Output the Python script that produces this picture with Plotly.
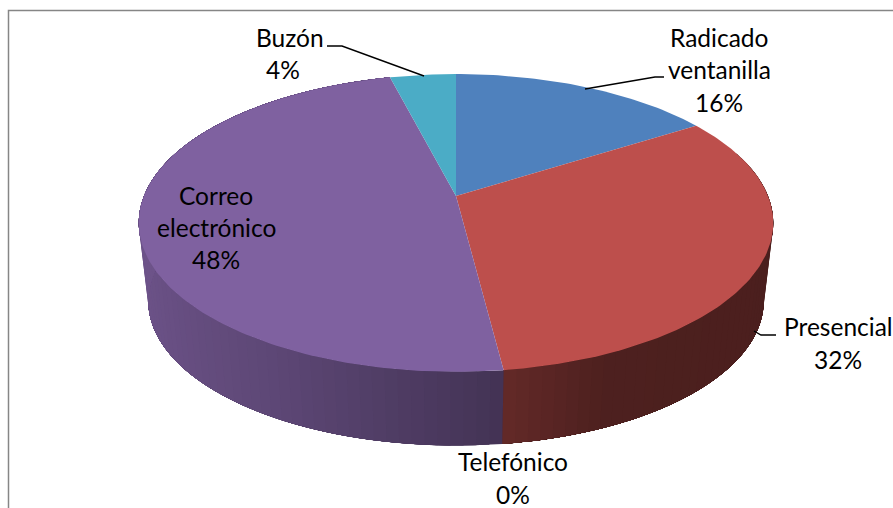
import numpy as np
import plotly.graph_objects as go

# Data
categories = ["Radicado ventanilla", "Presencial", "Telefónico", "Correo electrónico", "Buzón"]
values = [16, 32, 0, 48, 4]
colors = ["#4f81bd", "#bd4f4c", "#9bbb59", "#7f61a0", "#4bacc6"]
label_lines = [["Radicado", "ventanilla", "16%"], ["Presencial", "32%"], ["Telefónico", "0%"],
               ["Correo", "electrónico", "48%"], ["Buzón", "4%"]]
label_x = [[719, 719, 719], [838, 838], [513, 513], [216, 216, 216], [290, 283]]
label_y = [[37, 69, 102], [326, 359], [461, 494], [195, 227, 259], [37, 69]]
leaders = [[(585, 89), (655, 77), (664, 77)], [(754, 331), (761, 335), (776, 335)], [(424, 76), (342, 46), (327, 46)]]

# Projection of the tilted disc
CX, TOP_Y, BOT_Y, A, B, K, BOT_SCALE = 456, 196, 275, 144, 312, 0.181, 0.97
FONT = "Lato"
FS = 24.5


def project(theta, cy, scale=1.0):
    u, v = np.sin(theta), np.cos(theta)
    d = 1 + K * v
    return CX + scale * B * u / d, cy - scale * A * v / d


def shade(color, theta):
    f = np.interp(np.sin(theta), [-1, -.5, .125, .4, 1], [.86, .74, .53, .41, .4])
    rgb = [int(color[i:i + 2], 16) for i in (1, 3, 5)]
    return "rgb(%d,%d,%d)" % tuple(int(c * f) for c in rgb)


fig = go.Figure()


def poly(xs, ys, col):
    fig.add_trace(go.Scatter(x=list(xs), y=list(ys), mode="lines", fill="toself", fillcolor=col,
                             line=dict(color=col, width=0), hoverinfo="skip", showlegend=False))


total = sum(values)
edges = np.radians(np.cumsum([0] + values) / total * 360)

# Rim: each facet reaches to the end of its slice, the next one paints over it
for i, col in enumerate(colors):
    a0, a1 = edges[i], edges[i + 1]
    if a1 <= a0:
        continue
    n = max(2, int(np.degrees(a1 - a0) / 2))
    th = np.linspace(a0, a1, n + 1)
    for k, (t0, t1) in enumerate(zip(th[:-1], th[1:])):
        if np.cos((t0 + t1) / 2) > 0.3:
            continue
        arc = np.linspace(t0, a1, 40)
        xt, yt = project(arc, TOP_Y)
        xb, yb = project(arc[::-1], BOT_Y, BOT_SCALE)
        poly([*xt, *xb, xt[0]], [*yt, *yb, yt[0]], shade(col, (t0 + t1) / 2))

# Top face
for i, col in enumerate(colors):
    a0, a1 = edges[i], edges[i + 1]
    if a1 <= a0:
        continue
    th = np.linspace(a0, a1, max(4, int(np.degrees(a1 - a0))) + 1)
    xs, ys = project(th, TOP_Y)
    poly([CX, *xs, CX], [TOP_Y, *ys, TOP_Y], col)

# Leader lines
for pts in leaders:
    fig.add_trace(go.Scatter(x=[p[0] for p in pts], y=[p[1] for p in pts], mode="lines",
                             line=dict(color="#000000", width=1.4), hoverinfo="skip", showlegend=False))

# Labels
for lines, xs, ys in zip(label_lines, label_x, label_y):
    for t, x, y in zip(lines, xs, ys):
        fig.add_annotation(x=x, y=y, text=t, showarrow=False, xanchor="center", yanchor="middle",
                           font=dict(family=FONT, size=FS, color="#000000"))

# Chart frame
fig.add_shape(type="rect", x0=8.5, y0=10.5, x1=900, y1=520, line=dict(color="#868686", width=1.5),
              fillcolor="rgba(0,0,0,0)", layer="below")

fig.update_layout(width=893, height=508, margin=dict(l=0, r=0, t=0, b=0),
                  paper_bgcolor="#ffffff", plot_bgcolor="#ffffff", showlegend=False,
                  xaxis=dict(range=[0, 893], visible=False, fixedrange=True),
                  yaxis=dict(range=[508, 0], visible=False, fixedrange=True))
fig.write_html("out.html", config={"displayModeBar": False},
               post_script="document.body.style.margin='0';document.body.style.overflow='hidden';")
